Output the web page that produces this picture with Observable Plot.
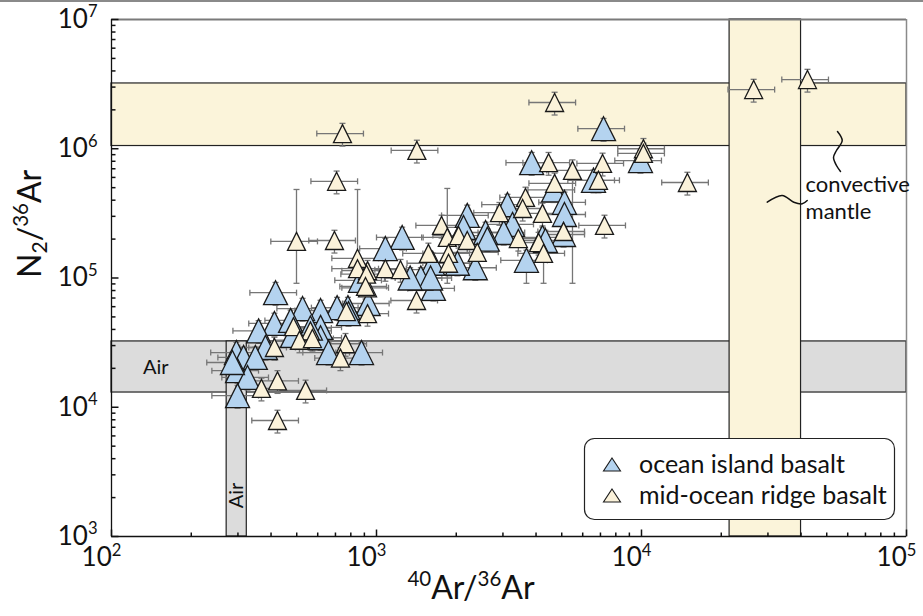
<!DOCTYPE html>
<html><head><meta charset="utf-8">
<script src="https://cdn.jsdelivr.net/npm/d3@7"></script>
<script src="https://cdn.jsdelivr.net/npm/@observablehq/plot@0.6"></script>
<style>
body{margin:0;background:#fff;}
#wrap{position:relative;width:923px;height:616px;overflow:hidden}
#topline{position:absolute;left:0;top:0;width:923px;height:2px;background:#8a8a8a}
</style></head><body>
<div id="wrap"><div id="topline"></div></div>
<script>
// ---- data ----
const oibX = [7190,9910,3850,6590,4660,5120,5120,5080,4230,3680,3120,3260,3020,2200,2130,2580,2620,2360,2020,1630,1640,1470,1250,1080,930,870,780,710,615,526,416,412,359,482,615,615,563,381,296,315,349,299,326,299,659,878,784,474,286,1600,4340,1340];
const oibY = [1.43e6,8.1e5,7.8e5,5.7e5,4.8e5,3.85e5,3.1e5,2.17e5,2.06e5,1.37e5,3.7e5,2.6e5,2.25e5,3.05e5,2.46e5,2.25e5,2.0e5,1.2e5,1.3e5,1.3e5,8.3e4,1.0e5,2.06e5,1.69e5,6.35e4,9.6e4,5.9e4,5.9e4,5.6e4,5.8e4,7.7e4,4.45e4,3.9e4,3.6e4,4.15e4,3.45e4,4.1e4,2.9e4,2.65e4,2.43e4,2.43e4,1.92e4,1.7e4,1.23e4,2.65e4,2.65e4,5.3e4,4.7e4,2.22e4,1.0e5,1.95e5,1.0e5];
const morbX = [744,1420,707,499,694,4700,26500,42300,10170,10170,14900,7250,4460,5490,7130,6880,4700,3650,3560,2910,4230,3430,4090,4270,5080,1760,1850,2040,2200,2400,1870,1870,1570,1416,1080,1232,925,925,925,848,848,917,909,770,486,563,512,573,412,764,731,368,423,540,423];
const morbY = [1.31e6,9.7e5,5.6e5,1.92e5,1.95e5,2.28e6,2.87e6,3.43e6,1.0e6,9.2e5,5.48e5,2.55e5,7.8e5,6.8e5,7.7e5,5.7e5,5.4e5,4.2e5,3.45e5,3.2e5,3.16e5,2.02e5,1.88e5,1.55e5,2.29e5,2.55e5,2.06e5,2.13e5,1.95e5,1.58e5,1.55e5,1.3e5,1.55e5,6.7e4,1.18e5,1.16e5,1.14e5,8.4e4,5.3e4,1.42e5,1.18e5,1.07e5,8.6e4,5.5e4,4.2e4,3.9e4,3.3e4,3.4e4,2.9e4,3.1e4,2.4e4,1.4e4,1.6e4,1.35e4,7.9e3];
// typical relative (1σ) uncertainty of both ratios
const relErrX = 0.2;
const relErrY = 0.2;
// points with large N2/36Ar uncertainty: index, lower, upper
const morbWideIdx = [3,13,23,26,39];
const morbWideLo  = [9.1e4,9.1e4,9.1e4,9.1e4,1.0e5];
const morbWideHi  = [4.84e5,8.2e5,1.86e5,4.93e5,4.84e5];
const oibWideIdx = [9];
const oibWideLo  = [9.1e4];
const oibWideHi  = [1.64e5];
// reference fields
const bandNames = ["airH","airV","mantleH","mantleV"];
const bandX1 = [100,272,100,2.15e4];
const bandX2 = [1e5,324,1e5,4.0e4];
const bandY1 = [1.3e4,1e3,1.05e6,1e3];
const bandY2 = [3.23e4,3.23e4,3.2e6,1e7];
const bandFill = ["#dcdcdc","#dcdcdc","#fbf4da","#fbf4da"];
// annotation squiggles
const squigVX = [54900,57200,54420,53040,54420,56360];
const squigVY = [1.36e6,1.158e6,9.69e5,8.55e5,7.42e5,6.67e5];
const squigHX = [29810,33950,37560,40410,42200];
const squigHY = [3.86e5,4.35e5,3.86e5,3.75e5,3.98e5];
// axes
const xTickLabels = [1e2,1e3,1e4,1e5];
const yTickLabels = [1e3,1e4,1e5,1e6,1e7];
const xTitle = "^{40}Ar/^{36}Ar";
const yTitle = "N_{2}/^{36}Ar";
const legendLabels = ["ocean island basalt","mid-ocean ridge basalt"];
const colOIB = "#b4d3ef", colMORB = "#fbf2da";

// ---- build tables ----
function build(X, Y, wIdx, wLo, wHi){
  return X.map((x,i)=>{
    const j = wIdx.indexOf(i);
    return {x, y:Y[i], xlo:x*(1-relErrX), xhi:x*(1+relErrX),
      ylo: j>=0 ? wLo[j] : Y[i]*(1-relErrY), yhi: j>=0 ? wHi[j] : Y[i]*(1+relErrY)};
  });
}
const oib = build(oibX, oibY, oibWideIdx, oibWideLo, oibWideHi);
const morb = build(morbX, morbY, morbWideIdx, morbWideLo, morbWideHi);
const all = oib.concat(morb);
const bands = bandNames.map((n,i)=>({n,x1:bandX1[i],x2:bandX2[i],y1:bandY1[i],y2:bandY2[i],fill:bandFill[i]}));
const minor = (a,b)=>{const r=[];for(let n=a;n<b;n++)for(let k=2;k<=9;k++)r.push(k*10**n);return r;};
const xMinor = minor(2,5), yMinor = minor(3,7);

// ---- symbols ----
const tri = {draw(ctx,size){const s=Math.sqrt(size/Math.PI)*2;ctx.moveTo(0,-s/2);ctx.lineTo(s/2,s/2);ctx.lineTo(-s/2,s/2);ctx.closePath();}};
const capV = {draw(ctx,size){const r=Math.sqrt(size/Math.PI);ctx.moveTo(0,-r);ctx.lineTo(0,r);}};
const capH = {draw(ctx,size){const r=Math.sqrt(size/Math.PI);ctx.moveTo(-r,0);ctx.lineTo(r,0);}};
const tickR = {draw(ctx,size){const l=Math.sqrt(size/Math.PI);ctx.moveTo(0,0);ctx.lineTo(l,0);}};
const tickU = {draw(ctx,size){const l=Math.sqrt(size/Math.PI);ctx.moveTo(0,0);ctx.lineTo(0,-l);}};

const eb = {stroke:"#767676", strokeWidth:1.3};
const fmt = d => `10^{${Math.round(Math.log10(d))}}`;

const chart = Plot.plot({
  width:923, height:616, marginLeft:111, marginRight:17, marginTop:19, marginBottom:80,
  x:{type:"log", domain:[100,1e5]},
  y:{type:"log", domain:[1e3,1e7]},
  style:{fontFamily:"Lato, 'Noto Sans', sans-serif", fontSize:"22px", color:"#111", background:"white"},
  marks:[
    Plot.rect(bands,{x1:"x1",x2:"x2",y1:"y1",y2:"y2",fill:"fill",stroke:"#222",strokeWidth:1.2}),
    // error bars
    Plot.link(all,{x1:"xlo",x2:"xhi",y1:"y",y2:"y",...eb}),
    Plot.link(all,{x1:"x",x2:"x",y1:"ylo",y2:"yhi",...eb}),
    Plot.dot(all,{x:"xlo",y:"y",symbol:capV,r:3,fill:"none",...eb}),
    Plot.dot(all,{x:"xhi",y:"y",symbol:capV,r:3,fill:"none",...eb}),
    Plot.dot(all,{x:"x",y:"ylo",symbol:capH,r:3,fill:"none",...eb}),
    Plot.dot(all,{x:"x",y:"yhi",symbol:capH,r:3,fill:"none",...eb}),
    // samples
    Plot.dot(oib,{x:"x",y:"y",symbol:tri,r:12,fill:colOIB,stroke:"#1a1a1a",strokeWidth:1.3}),
    Plot.dot(morb,{x:"x",y:"y",symbol:tri,r:9,fill:colMORB,stroke:"#1a1a1a",strokeWidth:1.3}),
    // frame
    Plot.ruleY([1e7],{stroke:"#7a7a7a",strokeWidth:2}),
    Plot.ruleX([1e5],{stroke:"#8a8a8a",strokeWidth:1.5}),
    Plot.ruleX([100],{stroke:"#111",strokeWidth:1.3}),
    Plot.ruleY([1e3],{stroke:"#111",strokeWidth:1.3}),
    // inward ticks
    Plot.dot(yMinor,{y:d=>d,frameAnchor:"left",symbol:tickR,r:4,fill:"none",stroke:"#111"}),
    Plot.dot(yTickLabels,{y:d=>d,frameAnchor:"left",symbol:tickR,r:7,fill:"none",stroke:"#111"}),
    Plot.dot(xMinor,{x:d=>d,frameAnchor:"bottom",symbol:tickU,r:4,fill:"none",stroke:"#111"}),
    Plot.dot(xTickLabels,{x:d=>d,frameAnchor:"bottom",symbol:tickU,r:7,fill:"none",stroke:"#111"}),
    // tick labels
    Plot.axisY(yTickLabels,{tickSize:0,tickPadding:14,tickFormat:fmt,label:null}),
    Plot.axisX(xTickLabels,{tickSize:0,tickPadding:11,tickFormat:fmt,label:null,dx:-10}),
    // titles
    Plot.text([yTitle],{text:d=>d,frameAnchor:"left",dx:-81,rotate:-90,fontSize:32}),
    Plot.text([xTitle],{text:d=>d,frameAnchor:"bottom",dy:62,dx:-38,fontSize:32}),
    // annotations
    Plot.text(["Air"],{text:d=>d,x:()=>147,y:()=>2.04e4,fontSize:20}),
    Plot.text(["Air"],{text:d=>d,x:()=>297,y:()=>2080,rotate:-90,fontSize:20}),
    Plot.text(["convective","mantle"],{text:d=>d,x:()=>41600,y:[5.24e5,3.27e5],textAnchor:"start",fontSize:22}),
    Plot.line(squigVX.map((x,i)=>({x,y:squigVY[i]})),{x:"x",y:"y",curve:"catmull-rom",stroke:"#111",strokeWidth:1.5}),
    Plot.line(squigHX.map((x,i)=>({x,y:squigHY[i]})),{x:"x",y:"y",curve:"catmull-rom",stroke:"#111",strokeWidth:1.5})
  ]
});
document.getElementById("wrap").appendChild(chart);

// rich text: ^{sup} and _{sub}
function setRich(el, str, size){
  const sel = d3.select(el); sel.text(null).attr("font-size", size).style("font-size", size+"px");
  const parts = str.split(/(\^\{[^}]*\}|_\{[^}]*\})/).filter(s=>s);
  let shift = 0;
  for (const p of parts){
    let target=0, fs=size, t=p;
    if (p.startsWith("^{")) {target=-0.4*size; fs=0.64*size; t=p.slice(2,-1);}
    else if (p.startsWith("_{")) {target=0.2*size; fs=0.66*size; t=p.slice(2,-1);}
    sel.append("tspan").attr("dy", (target-shift).toFixed(2)).style("font-size", fs.toFixed(1)+"px").text(t);
    shift = target;
  }
}
d3.select(chart).selectAll("text").each(function(){
  const s = this.textContent;
  if (/^10\^\{/.test(s)) setRich(this, s, 26);
  else if (/[\^_]\{/.test(s)) setRich(this, s, 32);
});

// legend
const svg = d3.select(chart);
const lg = svg.append("g").attr("text-anchor","start");
lg.append("rect").attr("x",584.5).attr("y",438.5).attr("width",310).attr("height",81).attr("rx",10)
  .attr("fill","white").attr("stroke","#222").attr("stroke-width",1.2);
[[colOIB,465],[colMORB,496]].forEach(([c,cy],i)=>{
  lg.append("path").attr("d",`M612,${cy-7}L620.5,${cy+6}L603.5,${cy+6}Z`).attr("fill",c).attr("stroke","#1a1a1a").attr("stroke-width",1.1);
  lg.append("text").attr("x",639).attr("y",cy+8).style("font-size","25px").attr("text-anchor","start").attr("fill","#111").text(legendLabels[i]);
});
</script>
</body></html>
